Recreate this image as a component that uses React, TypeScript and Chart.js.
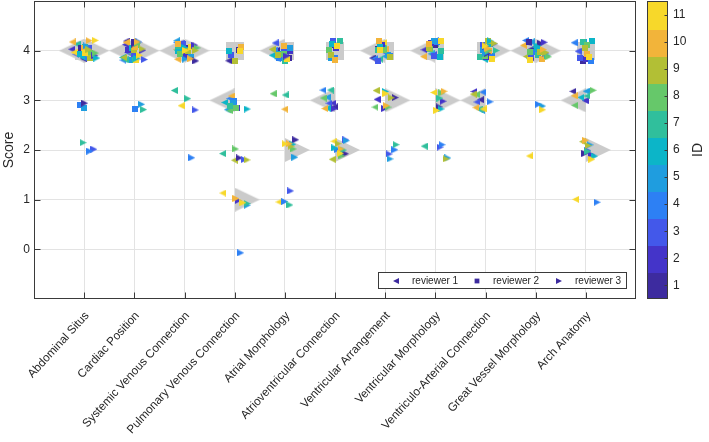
import React, { useEffect, useRef } from 'react';
import { Chart, registerables } from 'chart.js';

Chart.register(...registerables);

// ---------------- data ----------------
const categories = [
  'Abdominal Situs',
  'Cardiac Position',
  'Systemic Venous Connection',
  'Pulmonary Venous Connection',
  'Atrial Morphology',
  'Atrioventricular Connection',
  'Ventricular Arrangement',
  'Ventricular Morphology',
  'Ventriculo-Arterial Connection',
  'Great Vessel Morphology',
  'Arch Anatomy',
];

const idValues = [1, 2, 3, 4, 5, 6, 7, 8, 9, 10, 11];
const yTickValues = [0, 1, 2, 3, 4];
const reviewerNames = ['reviewer 1', 'reviewer 2', 'reviewer 3'];

// scores per category, one entry per ID (1..11)
const reviewer1Scores = [
  [4, 4, 4, 4, 4, 4, 4, 4, 4, 4, 4],
  [4, 4, 4, 4, 4, 4, 4, 4, 4, 4, 4],
  [4, 4, 4, 4, 4, 4, 3, 4, 4, 4, 3],
  [4, 3, 3, 3, 3, 3, 2, 3, 2, 3, 1],
  [4, 4, 4, 4, 4, 4, 3, 3, 4, 3, 1],
  [3, 3, 3, 3, 3, 3, 3, 3, 2, 3, 2],
  [4, 3, 4, 4, 4, 4, 4, 3, 3, 4, 4],
  [4, 4, 4, 4, 4, 4, 2, 4, 4, 4, 3],
  [3, 3, 3, 3, 3, 4, 3, 3, 3, 3, 3],
  [4, 4, 4, 4, 4, 4, 4, 4, 4, 4, 2],
  [3, 3, 4, 4, 3, 3, 3, 3, 2, 3, 1],
];
const reviewer2Scores = [
  [4, 4, 4, 3, 3, 4, 4, 4, 4, 4, 4],
  [4, 4, 4, 3, 4, 4, 4, 4, 4, 4, 4],
  [4, 4, 4, 4, 4, 4, 4, 4, 4, 4, 4],
  [4, 3, 4, 3, 3, 4, 3, 3, 4, 4, 4],
  [4, 4, 4, 4, 4, 4, 4, 4, 4, 4, 4],
  [4, 4, 4, 4, 4, 4, 4, 4, 4, 4, 4],
  [4, 4, 4, 4, 4, 4, 4, 4, 4, 4, 4],
  [4, 4, 4, 4, 4, 4, 4, 4, 4, 4, 4],
  [4, 4, 4, 4, 4, 4, 4, 4, 4, 4, 4],
  [4, 4, 4, 4, 4, 4, 4, 4, 4, 4, 4],
  [4, 4, 4, 4, 4, 4, 4, 4, 4, 4, 4],
];
const reviewer3Scores = [
  [3, 4, 2, 2, 4, 4, 2, 4, 4, 4, 4],
  [4, 4, 4, 4, 3, 4, 3, 4, 4, 4, 4],
  [4, 4, 3, 2, 4, 4, 3, 4, 4, 4, 4],
  [2, 1, 2, 0, 1, 3, 1, 2, 2, 1, 1],
  [2, 4, 1, 1, 2, 2, 1, 2, 2, 2, 2],
  [2, 3, 2, 2, 2, 2, 2, 2, 2, 2, 2],
  [3, 3, 2, 2, 2, 3, 2, 3, 3, 3, 3],
  [3, 3, 2, 2, 2, 3, 3, 3, 2, 3, 3],
  [4, 4, 4, 3, 4, 4, 4, 4, 4, 4, 4],
  [4, 4, 4, 3, 3, 4, 4, 4, 4, 4, 3],
  [2, 2, 2, 1, 2, 2, 2, 3, 2, 2, 2],
];

// median score of each reviewer per category (large grey markers)
const reviewer1Median = [4, 4, 4, 3, 4, 3, 4, 4, 3, 4, 3];
const reviewer2Median = [4, 4, 4, 4, 4, 4, 4, 4, 4, 4, 4];
const reviewer3Median = [4, 4, 4, 1, 2, 2, 3, 3, 4, 4, 2];

// ---------------- styles ----------------
const idColors = [
  '#3d2b9f',
  '#4434c9',
  '#4358ea',
  '#2d80f4',
  '#1f9ddf',
  '#0cb5c8',
  '#30bf9c',
  '#66c86a',
  '#b2bf35',
  '#f2b43a',
  '#f7d82a',
];
const GREY = '#cbcbcb';
const AXIS = '#3a3a3a';
const TEXT = '#262626';
const GRID = '#e3e3e3';
const FONT = '"Liberation Sans", Arial, Helvetica, sans-serif';
const shapes = ['left', 'square', 'right'];
const reviewerOffset = [-0.12, 0, 0.12];
const medianOffset = [-0.25, 0, 0.25];

function makeMarker(shape: string, color: string, w: number, h: number) {
  const c = document.createElement('canvas');
  c.width = w;
  c.height = h;
  const g = c.getContext('2d')!;
  g.fillStyle = color;
  g.beginPath();
  if (shape === 'left') {
    g.moveTo(0, h / 2);
    g.lineTo(w, 0);
    g.lineTo(w, h);
  } else if (shape === 'right') {
    g.moveTo(w, h / 2);
    g.lineTo(0, 0);
    g.lineTo(0, h);
  } else {
    g.rect(0, 0, w, h);
  }
  g.closePath();
  g.fill();
  return c;
}

function seeded(seed: number) {
  let a = seed;
  return () => {
    a |= 0;
    a = (a + 0x6d2b79f5) | 0;
    let t = Math.imul(a ^ (a >>> 15), 1 | a);
    t = (t + Math.imul(t ^ (t >>> 7), 61 | t)) ^ t;
    return ((t ^ (t >>> 14)) >>> 0) / 4294967296;
  };
}

function drawShape(ctx: CanvasRenderingContext2D, shape: string, cx: number, cy: number, s: number) {
  ctx.beginPath();
  if (shape === 'left') {
    ctx.moveTo(cx - s / 2, cy);
    ctx.lineTo(cx + s / 2, cy - s / 2);
    ctx.lineTo(cx + s / 2, cy + s / 2);
  } else if (shape === 'right') {
    ctx.moveTo(cx + s / 2, cy);
    ctx.lineTo(cx - s / 2, cy - s / 2);
    ctx.lineTo(cx - s / 2, cy + s / 2);
  } else {
    ctx.rect(cx - s * 0.4, cy - s * 0.4, s * 0.8, s * 0.8);
  }
  ctx.closePath();
  ctx.fill();
}

const decorPlugin = {
  id: 'decor',
  afterDraw(chart: any) {
    const { ctx, chartArea: a, scales } = chart;
    const xs = scales.x;
    const ys = scales.y;
    ctx.save();
    const L = Math.round(a.left) + 0.5;
    const R = Math.round(a.right) - 0.5;
    const T = Math.round(a.top) + 0.5;
    const B = Math.round(a.bottom) - 0.5;

    // axes box
    ctx.strokeStyle = AXIS;
    ctx.lineWidth = 1;
    ctx.strokeRect(L, T, R - L, B - T);

    // inward tick marks
    ctx.beginPath();
    categories.forEach((_, i) => {
      const px = Math.round(xs.getPixelForValue(i + 1)) + 0.5;
      ctx.moveTo(px, B);
      ctx.lineTo(px, B - 6);
      ctx.moveTo(px, T);
      ctx.lineTo(px, T + 6);
    });
    yTickValues.forEach((v) => {
      const py = Math.round(ys.getPixelForValue(v)) + 0.5;
      ctx.moveTo(L, py);
      ctx.lineTo(L + 6, py);
      ctx.moveTo(R, py);
      ctx.lineTo(R - 6, py);
    });
    ctx.stroke();

    // y axis title
    ctx.fillStyle = TEXT;
    ctx.font = `14px ${FONT}`;
    ctx.textAlign = 'center';
    ctx.textBaseline = 'middle';
    ctx.save();
    ctx.translate(9, (a.top + a.bottom) / 2);
    ctx.rotate(-Math.PI / 2);
    ctx.fillText('Score', 0, 0);
    ctx.restore();

    // legend
    const lw = 249;
    const lh = 17;
    const lx = Math.round(a.right) - 9 - lw;
    const ly = Math.round(a.bottom) - 10 - lh;
    ctx.fillStyle = '#ffffff';
    ctx.fillRect(lx, ly, lw, lh);
    ctx.strokeStyle = AXIS;
    ctx.strokeRect(lx + 0.5, ly + 0.5, lw - 1, lh - 1);
    const cy = ly + lh / 2 + 0.5;
    const entryX = [18, 99, 181];
    ctx.font = `10px ${FONT}`;
    ctx.textAlign = 'left';
    reviewerNames.forEach((name, r) => {
      ctx.fillStyle = idColors[0];
      drawShape(ctx, shapes[r], lx + entryX[r], cy, 6);
      ctx.fillStyle = TEXT;
      ctx.fillText(name, lx + entryX[r] + 16, cy);
    });

    // colorbar
    const cbx = Math.round(a.right) + 11;
    const cbw = 21;
    const cbt = Math.round(a.top);
    const cbb = Math.round(a.bottom);
    const band = (cbb - cbt) / idValues.length;
    idValues.forEach((id, i) => {
      ctx.fillStyle = idColors[i];
      const y0 = cbb - band * (i + 1);
      ctx.fillRect(cbx, Math.floor(y0), cbw, Math.ceil(band) + 1);
    });
    ctx.fillStyle = '#ffffff';
    ctx.fillRect(cbx, cbb, cbw, 2);
    ctx.strokeStyle = AXIS;
    ctx.strokeRect(cbx + 0.5, cbt + 0.5, cbw - 1, cbb - cbt - 1);
    ctx.beginPath();
    ctx.font = `12px ${FONT}`;
    ctx.textAlign = 'left';
    ctx.textBaseline = 'middle';
    idValues.forEach((id, i) => {
      const yc = cbb - band * (i + 0.5);
      const py = Math.round(yc) + 0.5;
      ctx.moveTo(cbx + cbw - 0.5, py);
      ctx.lineTo(cbx + cbw - 3.5, py);
      ctx.fillStyle = TEXT;
      ctx.fillText(String(id), cbx + cbw + 5, yc);
    });
    ctx.stroke();
    ctx.font = `14px ${FONT}`;
    ctx.textAlign = 'center';
    ctx.save();
    ctx.translate(cbx + cbw + 30, (cbt + cbb) / 2);
    ctx.rotate(-Math.PI / 2);
    ctx.fillText('ID', 0, 0);
    ctx.restore();

    ctx.restore();
  },
};

export default function App() {
  const ref = useRef<HTMLCanvasElement | null>(null);

  useEffect(() => {
    if (!ref.current) return;
    const smallMarkers = shapes.map((s) =>
      idColors.map((c) => (s === 'square' ? makeMarker(s, c, 6, 6) : makeMarker(s, c, 7, 7)))
    );
    const greyMarkers = shapes.map((s) =>
      s === 'square' ? makeMarker(s, GREY, 18, 18) : makeMarker(s, GREY, 25, 24)
    );

    const allScores = [reviewer1Scores, reviewer2Scores, reviewer3Scores];
    const allMedians = [reviewer1Median, reviewer2Median, reviewer3Median];
    const rand = seeded(20240611);

    const pointSets = allScores.map((scores, r) => {
      const pts: any[] = [];
      scores.forEach((row, c) => {
        row.forEach((score, k) => {
          const jx = (rand() - 0.5) * 0.28;
          const jy = (rand() - 0.5) * 0.42;
          pts.push({ x: c + 1 + reviewerOffset[r] + jx, y: score + jy, id: idValues[k] });
        });
      });
      return pts;
    });

    const datasets: any[] = [];
    allMedians.forEach((med, r) => {
      datasets.push({
        label: `${reviewerNames[r]} median`,
        data: med.map((m, c) => ({ x: c + 1 + medianOffset[r], y: m })),
        pointStyle: greyMarkers[r],
        pointRadius: 3,
        showLine: false,
        order: 10 + r,
      });
    });
    pointSets.forEach((pts, r) => {
      datasets.push({
        label: reviewerNames[r],
        data: pts,
        pointStyle: (ctx: any) => smallMarkers[r][(ctx.raw?.id ?? 1) - 1],
        pointRadius: 3,
        showLine: false,
        order: 3 - r,
      });
    });

    const zeroPad = (s: any) => {
      s.paddingTop = 0;
      s.paddingBottom = 0;
      s.paddingLeft = 0;
      s.paddingRight = 0;
    };

    const chart = new Chart(ref.current, {
      type: 'scatter',
      data: { datasets },
      options: {
        responsive: false,
        animation: false,
        events: [],
        layout: { autoPadding: false, padding: { top: 1, right: 73, left: 0, bottom: 0 } },
        plugins: { legend: { display: false }, tooltip: { enabled: false } },
        scales: {
          x: {
            type: 'linear',
            min: 0,
            max: 12,
            afterBuildTicks: (s: any) => {
              s.ticks = categories.map((_, i) => ({ value: i + 1 }));
            },
            afterFit: (s: any) => {
              s.height = 143;
              zeroPad(s);
            },
            ticks: {
              autoSkip: false,
              minRotation: 47.5,
              maxRotation: 47.5,
              padding: 10,
              labelOffset: 3,
              color: TEXT,
              font: { size: 11.7, family: FONT },
              callback: (v: any) => categories[Math.round(Number(v)) - 1] ?? '',
            },
            grid: { color: GRID, drawTicks: false },
            border: { display: false },
          },
          y: {
            min: -1,
            max: 5,
            afterBuildTicks: (s: any) => {
              s.ticks = yTickValues.map((v) => ({ value: v }));
            },
            afterFit: (s: any) => {
              s.width = 34;
              zeroPad(s);
            },
            ticks: {
              padding: 4,
              color: TEXT,
              font: { size: 12, family: FONT },
            },
            grid: { color: GRID, drawTicks: false },
            border: { display: false },
          },
        },
      },
      plugins: [decorPlugin],
    } as any);

    return () => chart.destroy();
  }, []);

  return (
    <div style={{ position: 'absolute', left: 0, top: 0, width: 709, height: 442, background: '#fff' }}>
      <canvas ref={ref} width={709} height={442} style={{ width: 709, height: 442, display: 'block' }} />
    </div>
  );
}
